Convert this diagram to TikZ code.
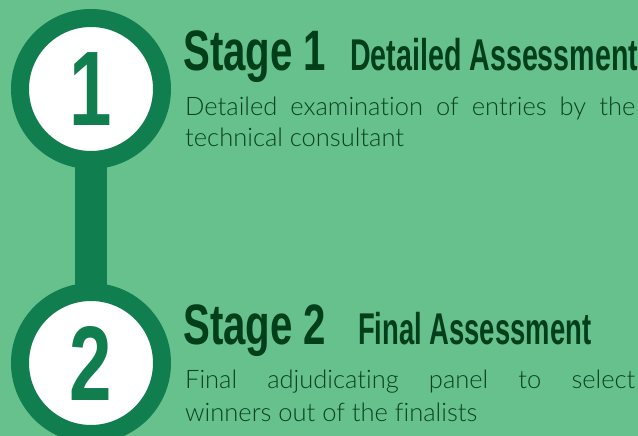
\documentclass[tikz,border=0pt]{standalone}
\usepackage{fontspec}
\usepackage{graphicx}
\setmainfont{Liberation Sans}
\newfontfamily\lightfont[Ligatures={NoCommon,NoRare}]{Lato Light}
\usetikzlibrary{backgrounds}
\definecolor{bgc}{HTML}{66C18C}
\definecolor{ringc}{HTML}{107E4F}
\definecolor{titlec}{HTML}{003F1A}
\definecolor{bodyc}{HTML}{0A4222}
\tikzset{
  stagecircle/.style={circle, draw=ringc, line width=18pt, fill=white,
    minimum size=142pt, inner sep=0pt, text=ringc},
  titletext/.style={anchor=base west, inner sep=0pt, text=titlec},
  bodytext/.style={anchor=base west, inner sep=0pt, text=bodyc,
    font=\lightfont\fontsize{25.5}{30}\selectfont},
  connbar/.style={draw=ringc, line width=32pt}
}
\newcommand{\bignum}[1]{\scalebox{0.72}[1]{\bfseries\fontsize{106}{106}\selectfont #1}}
\newcommand{\stagefit}[3]{\resizebox{#1}{\height}{\bfseries\fontsize{#2}{#2}\selectfont #3}}
\begin{document}
\begin{tikzpicture}[x=1pt,y=1pt]
\begin{pgfonlayer}{background}
\fill[bgc] (0,0) rectangle (638,436);
\end{pgfonlayer}
\useasboundingbox (0,0) rectangle (638,436);
\node[stagecircle] (c1) at (91,347) {\bignum{1}};
\node[stagecircle] (c2) at (91,73) {\bignum{2}};
\begin{pgfonlayer}{background}
\draw[connbar] (c1.center) -- (c2.center);
\end{pgfonlayer}
% Stage 1
\node[titletext] (s1) at (183,365) {\stagefit{143pt}{57}{Stage 1}};
\node[titletext] (s1b) at (350,365) {\stagefit{288pt}{44.5}{Detailed Assessment}};
\node[bodytext] (b1a) at (185,320) {\makebox[450pt][s]{Detailed examination of entries by the}};
\node[bodytext] (b1b) at (185,289) {technical consultant};
% Stage 2
\node[titletext] (s2) at (183,91) {\stagefit{143pt}{57}{Stage 2}};
\node[titletext] (s2b) at (358,91) {\stagefit{233pt}{44.5}{Final Assessment}};
\node[bodytext] (b2a) at (185,47) {\makebox[450pt][s]{Final adjudicating panel to select}};
\node[bodytext] (b2b) at (185,14) {winners out of the finalists};
\end{tikzpicture}
\end{document}
